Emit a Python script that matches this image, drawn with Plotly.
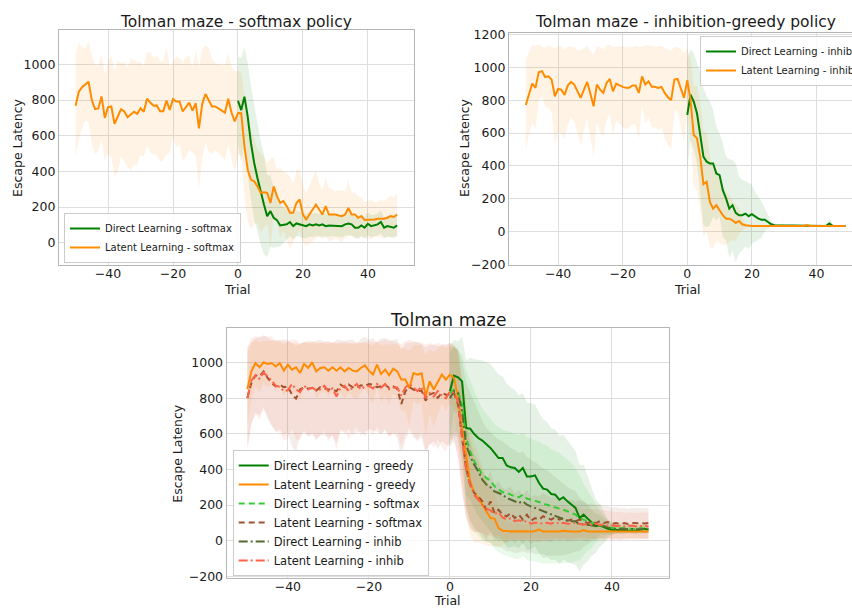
import plotly.graph_objects as go

# ---------------------------------------------------------------------------
# Trials: latent-learning agents start with an unrewarded phase at trial -50,
# direct-learning agents only run the rewarded phase from trial 0.
# ---------------------------------------------------------------------------
TRIALS_LATENT = list(range(-50, 50))
TRIALS_DIRECT = list(range(0, 50))

# ---- Panel 1: softmax policy ------------------------------------------------
SOFTMAX_DIRECT_MEAN = [796, 744, 819, 707, 558, 447, 363, 279, 214, 149,
                       177, 140, 127, 97, 99, 103, 116, 93, 108, 103,
                       97, 93, 103, 97, 103, 97, 103, 93, 97, 97,
                       93, 93, 93, 103, 108, 103, 84, 84, 97, 84,
                       106, 93, 97, 103, 116, 84, 93, 89, 84, 97]
SOFTMAX_DIRECT_STD = [250, 290, 280, 300, 320, 320, 300, 290, 280, 230,
                      200, 170, 150, 120, 100, 85, 80, 75, 70, 72,
                      70, 68, 70, 65, 66, 64, 68, 62, 64, 60,
                      62, 60, 62, 64, 66, 62, 60, 58, 62, 60,
                      64, 62, 60, 62, 66, 60, 58, 60, 58, 60]
SOFTMAX_LATENT_MEAN = [768, 847, 872, 885, 903, 800, 749, 753, 820, 700,
                       760, 764, 667, 708, 749, 736, 704, 719, 734, 723,
                       754, 734, 808, 786, 768, 770, 738, 738, 797, 745,
                       805, 792, 792, 736, 760, 786, 741, 782, 641, 779,
                       834, 801, 764, 764, 753, 741, 730, 808, 730, 680,
                       727,
                       726, 540, 409, 354, 344, 316, 279, 283, 279, 223,
                       316, 261, 223, 233, 205, 168, 168, 223, 242, 158,
                       130, 158, 186, 214, 186, 158, 205, 158, 158, 158,
                       153, 149, 158, 195, 158, 158, 140, 149, 127, 127,
                       130, 130, 134, 134, 134, 140, 149, 145, 158]
SOFTMAX_LATENT_STD = [289, 274, 228, 200, 228, 251, 251, 237, 242, 242,
                      260, 283, 297, 311, 260, 279, 279, 316, 293, 288,
                      260, 255, 260, 283, 270, 279, 284, 279, 302, 237,
                      214, 255, 242, 279, 279, 265, 237, 297, 340, 311,
                      270, 293, 265, 242, 251, 255, 270, 255, 260, 283,
                      237,
                      234, 280, 290, 279, 236, 205, 221, 200, 168, 250,
                      164, 148, 197, 167, 185, 204, 162, 186, 170, 156,
                      150, 165, 175, 190, 150, 140, 160, 150, 145, 130,
                      140, 145, 130, 160, 120, 125, 120, 110, 100, 105,
                      110, 95, 100, 105, 100, 110, 115, 110, 120]

# ---- Panel 2: inhibition-greedy policy -------------------------------------
INHIB_DIRECT_MEAN = [711, 833, 792, 720, 590, 456, 426, 415, 415, 354,
                     344, 252, 202, 140, 161, 114, 100, 100, 110, 94,
                     106, 90, 79, 73, 73, 59, 45, 39, 39, 37,
                     37, 36, 36, 36, 36, 35, 36, 35, 35, 35,
                     35, 35, 36, 35, 50, 36, 35, 35, 35, 35]
INHIB_DIRECT_STD = [340, 275, 295, 306, 375, 420, 397, 377, 326, 285,
                    254, 285, 254, 300, 275, 300, 234, 214, 200, 200,
                    180, 150, 130, 110, 70, 40, 15, 8, 8, 6,
                    6, 5, 5, 5, 5, 5, 5, 5, 5, 5,
                    5, 5, 5, 5, 30, 5, 5, 5, 5, 5]
INHIB_LATENT_MEAN = [771, 844, 901, 875, 970, 976, 941, 945, 925, 824,
                     868, 864, 832, 889, 911, 895, 854, 814, 864, 911,
                     840, 763, 895, 864, 844, 905, 929, 854, 901, 889,
                     881, 875, 875, 889, 889, 844, 945, 895, 915, 881,
                     881, 875, 881, 844, 818, 800, 925, 929, 875, 814,
                     921,
                     802, 588, 568, 456, 289, 303, 181, 140, 161, 130,
                     100, 79, 79, 69, 53, 65, 45, 39, 35, 35,
                     34, 35, 34, 33, 34, 35, 34, 34, 33, 34,
                     34, 35, 34, 34, 34, 34, 40, 34, 34, 33,
                     34, 34, 34, 35, 34, 34, 34, 34, 34]
INHIB_LATENT_STD = [280, 250, 235, 255, 170, 150, 180, 190, 200, 290,
                    260, 265, 270, 240, 215, 230, 250, 290, 250, 220,
                    260, 310, 230, 260, 265, 230, 210, 270, 225, 235,
                    245, 250, 245, 235, 240, 280, 180, 240, 220, 250,
                    245, 255, 250, 275, 290, 300, 200, 190, 240, 270,
                    200,
                    250, 300, 320, 330, 320, 300, 280, 240, 220, 200,
                    180, 160, 140, 120, 110, 80, 40, 15, 6, 5,
                    5, 5, 4, 4, 5, 4, 4, 5, 4, 4,
                    5, 4, 4, 4, 5, 6, 4, 4, 4, 5,
                    4, 4, 4, 5, 4, 4, 4, 4, 4]

# ---- Panel 3: all policies ---------------------------------------------------
GREEDY_DIRECT_MEAN = [839, 927, 918, 895, 633, 629, 599, 577, 562, 543,
                      521, 493, 464, 464, 423, 412, 408, 386, 408, 361,
                      361, 367, 324, 292, 287, 262, 258, 230, 244, 221,
                      202, 184, 127, 146, 124, 105, 81, 86, 75, 67,
                      62, 62, 58, 58, 56, 56, 56, 62, 67, 62]
GREEDY_DIRECT_STD = [260, 200, 200, 250, 380, 400, 420, 440, 450, 460,
                     470, 470, 470, 460, 460, 450, 440, 430, 420, 415,
                     410, 400, 395, 390, 380, 370, 365, 360, 350, 340,
                     330, 320, 300, 280, 240, 190, 150, 120, 90, 50,
                     30, 20, 18, 16, 16, 15, 15, 15, 15, 15]
GREEDY_LATENT_MEAN = [852, 951, 998, 974, 1002, 993, 998, 979, 998, 955,
                      989, 961, 974, 942, 993, 970, 1002, 951, 970, 974,
                      955, 974, 955, 974, 951, 970, 955, 951, 970, 985,
                      955, 933, 989, 936, 961, 929, 966, 951, 905, 905,
                      858, 942, 933, 940, 812, 895, 849, 895, 933, 905,
                      933,
                      914, 802, 633, 483, 333, 268, 240, 202, 165, 127,
                      124, 71, 56, 52, 52, 53, 52, 51, 52, 52,
                      54, 62, 52, 51, 52, 53, 52, 55, 52, 51,
                      52, 52, 60, 52, 51, 52, 52, 53, 52, 52,
                      51, 52, 52, 52, 53, 52, 52, 52, 52]
GREEDY_LATENT_STD = [200, 160, 130, 140, 120, 130, 125, 140, 120, 150,
                     130, 150, 140, 160, 125, 140, 120, 155, 140, 135,
                     150, 140, 150, 140, 155, 140, 150, 155, 140, 130,
                     150, 165, 125, 160, 145, 170, 140, 150, 180, 175,
                     210, 155, 165, 160, 230, 180, 210, 185, 160, 180,
                     160,
                     180, 250, 300, 320, 310, 280, 250, 220, 190, 160,
                     150, 110, 80, 60, 50, 45, 45, 42, 40, 40,
                     40, 45, 40, 40, 38, 38, 38, 40, 38, 38,
                     38, 38, 42, 38, 38, 38, 38, 38, 38, 38,
                     38, 38, 38, 38, 38, 38, 38, 38, 38]
SOFTMAX_B_DIRECT_MEAN = [830, 848, 839, 764, 577, 502, 446, 408, 371, 352,
                         337, 305, 287, 273, 268, 258, 249, 244, 258, 236,
                         230, 221, 217, 206, 202, 193, 187, 184, 174, 165,
                         155, 146, 127, 118, 112, 99, 99, 90, 81, 75,
                         71, 71, 75, 71, 67, 67, 65, 71, 67, 71]
SOFTMAX_B_DIRECT_STD = [250, 240, 230, 280, 380, 400, 390, 380, 370, 360,
                        350, 350, 350, 350, 350, 350, 350, 350, 345, 345,
                        345, 340, 340, 335, 330, 320, 315, 310, 300, 290,
                        280, 260, 240, 200, 170, 140, 110, 80, 60, 45,
                        35, 30, 28, 26, 25, 25, 25, 25, 25, 25]
SOFTMAX_B_LATENT_MEAN = [802, 886, 929, 923, 951, 914, 886, 867, 877, 862,
                         867, 820, 798, 849, 862, 854, 858, 843, 862, 854,
                         849, 849, 839, 877, 862, 877, 862, 858, 873, 867,
                         880, 877, 862, 867, 877, 858, 867, 854, 768, 839,
                         862, 849, 839, 843, 787, 820, 830, 802, 830, 820,
                         820,
                         830, 764, 577, 408, 315, 268, 249, 221, 174, 221,
                         155, 174, 146, 137, 155, 127, 146, 118, 146, 112,
                         127, 118, 137, 127, 118, 131, 118, 127, 112, 118,
                         109, 118, 109, 99, 109, 99, 109, 99, 105, 94,
                         99, 94, 99, 94, 99, 97, 99, 97, 99]
SOFTMAX_B_LATENT_STD = [280, 230, 210, 220, 200, 230, 240, 260, 250, 270,
                        260, 290, 300, 260, 250, 270, 260, 280, 270, 260,
                        270, 260, 290, 250, 260, 250, 270, 250, 260, 280,
                        250, 260, 250, 270, 260, 270, 260, 280, 300, 270,
                        250, 270, 280, 260, 300, 280, 270, 290, 270, 280,
                        290,
                        270, 300, 300, 280, 250, 220, 200, 180, 170, 170,
                        160, 160, 150, 150, 150, 140, 140, 140, 140, 130,
                        130, 130, 130, 130, 125, 125, 120, 120, 115, 115,
                        110, 110, 105, 105, 100, 100, 95, 95, 90, 90,
                        90, 90, 85, 85, 85, 85, 85, 85, 85]
INHIB_B_DIRECT_MEAN = [800, 839, 830, 727, 539, 474, 427, 390, 343, 315,
                       300, 277, 268, 258, 240, 230, 221, 212, 221, 202,
                       193, 184, 174, 165, 155, 146, 137, 127, 118, 112,
                       109, 109, 90, 94, 90, 86, 81, 90, 81, 71,
                       66, 66, 64, 64, 66, 64, 62, 64, 66, 64]
INHIB_B_DIRECT_STD = [260, 250, 250, 280, 350, 360, 350, 340, 330, 320,
                      310, 310, 300, 300, 300, 290, 290, 280, 280, 270,
                      260, 260, 250, 240, 240, 230, 220, 210, 200, 190,
                      180, 170, 150, 130, 110, 90, 70, 55, 45, 35,
                      30, 28, 26, 25, 24, 24, 24, 24, 24, 24]
INHIB_B_LATENT_MEAN = [800, 900, 930, 910, 945, 925, 900, 870, 865, 840,
                       845, 880, 850, 835, 870, 850, 860, 845, 850, 870,
                       840, 855, 810, 860, 870, 840, 860, 880, 850, 865,
                       870, 855, 880, 860, 880, 850, 860, 860, 815, 860,
                       880, 860, 840, 865, 800, 830, 810, 840, 815, 800,
                       840,
                       830, 780, 570, 400, 310, 255, 230, 200, 180, 170,
                       150, 160, 130, 120, 125, 110, 115, 105, 110, 95,
                       100, 100, 95, 100, 95, 105, 95, 100, 95, 95,
                       100, 95, 90, 95, 90, 95, 88, 90, 85, 85,
                       82, 84, 80, 82, 85, 80, 82, 84, 80]
INHIB_B_LATENT_STD = [290, 240, 220, 230, 210, 220, 250, 250, 260, 280,
                      270, 250, 280, 270, 250, 260, 250, 270, 260, 250,
                      280, 260, 300, 250, 250, 270, 250, 240, 260, 250,
                      250, 260, 240, 260, 250, 270, 260, 250, 290, 260,
                      250, 260, 270, 250, 300, 280, 290, 270, 290, 300,
                      270,
                      260, 290, 300, 270, 230, 200, 180, 160, 150, 140,
                      130, 130, 120, 115, 115, 110, 110, 105, 105, 100,
                      100, 100, 98, 98, 95, 95, 95, 92, 92, 90,
                      90, 88, 88, 85, 85, 85, 82, 82, 80, 80,
                      78, 78, 76, 76, 75, 75, 75, 75, 75]

# ---- Styling ------------------------------------------------------------------
GREEN = (0, 128, 0)
DARKORANGE = (255, 140, 0)
LIMEGREEN = (50, 205, 50)
SIENNA = (160, 82, 45)
OLIVE = (85, 107, 47)
TOMATO = (255, 99, 71)

DASHED = "6px,4px"
DASHDOT = "9px,3px,2px,3px"
FONT = "DejaVu Sans"
TEXT = "#1a1a1a"


def rgb(c, a=None):
    if a is None:
        return "rgb(%d,%d,%d)" % c
    return "rgba(%d,%d,%d,%.3f)" % (c + (a,))


fig = go.Figure()
bands, lines = [], []


def series(x, mean, std, color, name, dash, xa, ya, legend, alpha):
    upper = [m + s for m, s in zip(mean, std)]
    lower = [m - s for m, s in zip(mean, std)]
    bands.append(go.Scatter(
        x=list(x) + list(x)[::-1], y=upper + lower[::-1],
        fill="toself", fillcolor=rgb(color, alpha), line=dict(width=0),
        mode="lines", hoverinfo="skip", showlegend=False,
        xaxis=xa, yaxis=ya))
    lines.append(go.Scatter(
        x=x, y=mean, mode="lines", name=name,
        line=dict(color=rgb(color), width=2, dash=dash),
        xaxis=xa, yaxis=ya, legend=legend))


# panel 1
series(TRIALS_DIRECT, SOFTMAX_DIRECT_MEAN, SOFTMAX_DIRECT_STD, GREEN,
       "Direct Learning - softmax", "solid", "x", "y", "legend", 0.10)
series(TRIALS_LATENT, SOFTMAX_LATENT_MEAN, SOFTMAX_LATENT_STD, DARKORANGE,
       "Latent Learning - softmax", "solid", "x", "y", "legend", 0.10)
# panel 2
series(TRIALS_DIRECT, INHIB_DIRECT_MEAN, INHIB_DIRECT_STD, GREEN,
       "Direct Learning - inhib", "solid", "x2", "y2", "legend2", 0.10)
series(TRIALS_LATENT, INHIB_LATENT_MEAN, INHIB_LATENT_STD, DARKORANGE,
       "Latent Learning - inhib", "solid", "x2", "y2", "legend2", 0.10)
# panel 3
series(TRIALS_DIRECT, GREEDY_DIRECT_MEAN, GREEDY_DIRECT_STD, GREEN,
       "Direct Learning - greedy", "solid", "x3", "y3", "legend3", 0.10)
series(TRIALS_LATENT, GREEDY_LATENT_MEAN, GREEDY_LATENT_STD, DARKORANGE,
       "Latent Learning - greedy", "solid", "x3", "y3", "legend3", 0.10)
series(TRIALS_DIRECT, SOFTMAX_B_DIRECT_MEAN, SOFTMAX_B_DIRECT_STD, LIMEGREEN,
       "Direct Learning - softmax", DASHED, "x3", "y3", "legend3", 0.10)
series(TRIALS_LATENT, SOFTMAX_B_LATENT_MEAN, SOFTMAX_B_LATENT_STD, SIENNA,
       "Latent Learning - softmax", DASHED, "x3", "y3", "legend3", 0.10)
series(TRIALS_DIRECT, INHIB_B_DIRECT_MEAN, INHIB_B_DIRECT_STD, OLIVE,
       "Direct Learning - inhib", DASHDOT, "x3", "y3", "legend3", 0.10)
series(TRIALS_LATENT, INHIB_B_LATENT_MEAN, INHIB_B_LATENT_STD, TOMATO,
       "Latent Learning - inhib", DASHDOT, "x3", "y3", "legend3", 0.10)

for tr in bands + lines:
    fig.add_trace(tr)

W, H = 852, 609


def px_x(v):
    return v / W


def px_y(v):
    return 1 - v / H


axis_common = dict(showgrid=True, gridcolor="#dedede", gridwidth=1,
                   zeroline=False, showline=True, linecolor="#b5b5b5",
                   linewidth=1.3, ticks="", ticklen=0,
                   tickfont=dict(family=FONT, size=12.5, color=TEXT))
x_common = dict(axis_common, ticklabelstandoff=-3)
X_TICKS = [-40, -20, 0, 20, 40]

legend_common = dict(bgcolor="rgba(255,255,255,0.85)", bordercolor="#cccccc",
                     borderwidth=1, xanchor="left", tracegroupgap=0)

fig.update_layout(
    width=W, height=H,
    margin=dict(l=0, r=0, t=0, b=0, autoexpand=False),
    paper_bgcolor="white", plot_bgcolor="white",
    font=dict(family=FONT, color=TEXT),
    xaxis=dict(x_common, domain=[px_x(59), px_x(414)], range=[-55.1, 54.2],
               tickvals=X_TICKS, mirror=True, anchor="y"),
    yaxis=dict(axis_common, domain=[px_y(265), px_y(30)], range=[-125, 1193],
               tickvals=[0, 200, 400, 600, 800, 1000], mirror=True, anchor="x"),
    xaxis2=dict(x_common, domain=[px_x(509), 1.0], range=[-55.2, 51.0],
                tickvals=X_TICKS, mirror=True, anchor="y2"),
    yaxis2=dict(axis_common, domain=[px_y(265), px_y(33.3)], range=[-203, 1207],
                tickvals=[-200, 0, 200, 400, 600, 800, 1000, 1200], anchor="x2"),
    xaxis3=dict(x_common, domain=[px_x(226.7), px_x(668.7)], range=[-55.1, 54.0],
                tickvals=X_TICKS, mirror=True, anchor="y3"),
    yaxis3=dict(axis_common, domain=[px_y(577.7), px_y(328.3)], range=[-208, 1193],
                tickvals=[-200, 0, 200, 400, 600, 800, 1000], mirror=True, anchor="x3"),
    legend=dict(legend_common, x=px_x(64), y=px_y(263), yanchor="bottom",
                font=dict(family=FONT, size=10, color=TEXT)),
    legend2=dict(legend_common, x=px_x(700), y=px_y(36), yanchor="top",
                 font=dict(family=FONT, size=10, color=TEXT)),
    legend3=dict(legend_common, x=px_x(232.7), y=px_y(576), yanchor="bottom",
                 font=dict(family=FONT, size=11.5, color=TEXT)),
)

labels = [
    ("Tolman maze - softmax policy", 236.5, 22, 15.5, 0, "middle"),
    ("Tolman maze - inhibition-greedy policy", 685.5, 22, 15.5, 0, "middle"),
    ("Tolman maze", 447.7, 320, 17.5, 0, "middle"),
    ("Trial", 237, 289, 12.5, 0, "middle"),
    ("Trial", 687, 289, 12.5, 0, "middle"),
    ("Trial", 447.7, 609, 12.5, 0, "bottom"),
    ("Escape Latency", 17, 148, 12.5, -90, "middle"),
    ("Escape Latency", 464, 148, 12.5, -90, "middle"),
    ("Escape Latency", 176.7, 453, 12.5, -90, "middle"),
]
for text, x, y, size, angle, yanchor in labels:
    fig.add_annotation(text=text, x=px_x(x), y=px_y(y), xref="paper", yref="paper",
                       xanchor="center", yanchor=yanchor, showarrow=False,
                       borderpad=0, textangle=angle,
                       font=dict(family=FONT, size=size, color=TEXT))

fig.write_html("out.html")
